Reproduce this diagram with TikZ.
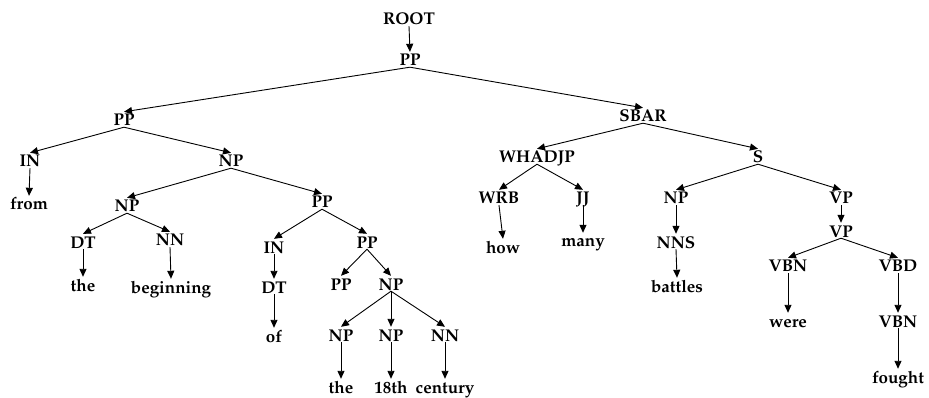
\documentclass[tikz,border=0pt]{standalone}
\usepackage[T1]{fontenc}
\usepackage{mathpazo}
\usetikzlibrary{arrows.meta}
\begin{document}
\begin{tikzpicture}[x=1pt,y=-1pt,
  lbl/.style={anchor=base,inner xsep=0pt,inner ysep=1pt,text height=13pt,text depth=0pt,
    font=\fontsize{17}{20}\selectfont\bfseries},
  edge/.style={line width=0.9pt,-{Triangle[length=8pt,width=7pt]}}]
\useasboundingbox (0,0) rectangle (929,398);
% phrase and word labels, placed by baseline
\node[lbl] (root)    at (409,25)  {ROOT};
\node[lbl] (pp0)     at (410,66)  {PP};
\node[lbl] (pp1)     at (124,126) {PP};
\node[lbl] (sbar)    at (643,122) {SBAR};
\node[lbl] (in1)     at (30,167)  {IN};
\node[lbl] (np1)     at (231,167) {NP};
\node[lbl] (whadjp)  at (537,163) {WHADJP};
\node[lbl] (s)       at (758,163) {S};
\node[lbl] (from)    at (29,210)  {from};
\node[lbl] (np2)     at (127,212) {NP};
\node[lbl] (pp2)     at (322,208) {PP};
\node[lbl] (wrb)     at (499,204) {WRB};
\node[lbl] (jj)      at (583,204) {JJ};
\node[lbl] (np3)     at (676,204) {NP};
\node[lbl] (vp1)     at (841,204) {VP};
\node[lbl] (dt1)     at (83,248)  {DT};
\node[lbl] (nn1)     at (170,246) {NN};
\node[lbl] (in2)     at (274,253) {IN};
\node[lbl] (pp3)     at (367,248) {PP};
\node[lbl] (how)     at (503,253) {how};
\node[lbl] (many)    at (583,247) {many};
\node[lbl] (nns)     at (676,248) {NNS};
\node[lbl] (vp2)     at (841,237) {VP};
\node[lbl] (the1)    at (83,291)  {the};
\node[lbl] (beg)     at (171,293) {beginning};
\node[lbl] (dt2)     at (274,293) {DT};
\node[lbl] (pp4)     at (341,290) {PP};
\node[lbl] (np4)     at (391,290) {NP};
\node[lbl] (battles) at (677,292) {battles};
\node[lbl] (vbn1)    at (788,272) {VBN};
\node[lbl] (vbd)     at (898,272) {VBD};
\node[lbl] (of)      at (274,342) {of};
\node[lbl] (np5)     at (341,341) {NP};
\node[lbl] (np6)     at (391,341) {NP};
\node[lbl] (nn2)     at (445,341) {NN};
\node[lbl] (were)    at (788,327) {were};
\node[lbl] (vbn2)    at (898,327) {VBN};
\node[lbl] (the2)    at (341,393) {the};
\node[lbl] (c18)     at (391,393) {18th};
\node[lbl] (century) at (445,393) {century};
\node[lbl] (fought)  at (898,383) {fought};
% tree edges, parent to child
\foreach \p/\c in {root/pp0, pp0/pp1, pp0/sbar, pp1/in1, pp1/np1, in1/from,
    np1/np2, np1/pp2, np2/dt1, np2/nn1, dt1/the1, nn1/beg,
    pp2/in2, pp2/pp3, in2/dt2, dt2/of, pp3/pp4, pp3/np4,
    np4/np5, np4/np6, np4/nn2, np5/the2, np6/c18, nn2/century,
    sbar/whadjp, sbar/s, whadjp/wrb, whadjp/jj, wrb/how, jj/many,
    s/np3, s/vp1, np3/nns, nns/battles, vp1/vp2, vp2/vbn1, vp2/vbd,
    vbn1/were, vbd/vbn2, vbn2/fought}
  \draw[edge] (\p.south) -- (\c.north);
\end{tikzpicture}
\end{document}
